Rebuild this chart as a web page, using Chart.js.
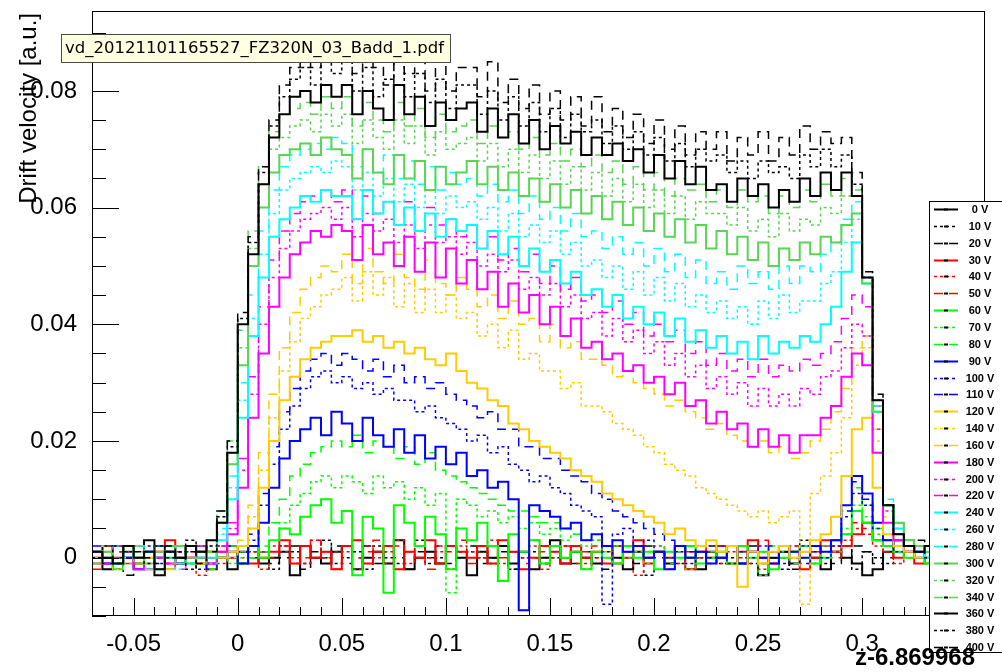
<!DOCTYPE html>
<html>
<head>
<meta charset="utf-8">
<script src="https://cdn.jsdelivr.net/npm/chart.js@4.4.0/dist/chart.umd.min.js"></script>
<style>
  html, body { margin: 0; padding: 0; background: #fff; }
  #wrap { width: 1002px; height: 672px; }
</style>
</head>
<body>
<div id="wrap"><canvas id="vdChart" width="1002" height="672"></canvas></div>
<script>
'use strict';

// z bin edges (0.005 wide), 85 bins from -0.07
var zBins = [];
for (var b = 0; b <= 85; b++) {
    zBins.push(+(-0.07 + 0.005 * b).toFixed(3));
}

// drift velocity per bin, in units of 1e-3 a.u.
var v0 = [1,-2,2,0,-1,3,-3,1,0,2,-1,1, 0,-2,1,2,-1,0,1,-3,2,0,-1,1, 2,-2,0,1,-1,3,-2,0,1,-1,2,0, -3,1,0,2,-1,1,-2,0,3,-1,1,0, -1,2,0,-2,1,0,1,-1,2,0,-2,1, 0,2,-1,1,-3,0,1,-1,2,0,-2,1, 0,-1,-3,-2,1,3,2,1,0,2,-1,1,0];
var v10 = [-1,2,0,1,-2,0,2,-1,1,3,-2,0, 2,0,-1,1,0,-2,2,1,-1,0,3,-1, 0,1,-2,2,0,-1,1,3,-1,0,-2,1, 1,0,-1,2,-2,0,1,-1,0,2,1,-2, 0,1,-1,0,2,-3,1,0,-1,2,0,1, -1,0,2,-1,1,0,-2,1,3,0,-1,1, 2,-2,1,0,-1,2,3,1,0,-1,2,0,1];
var v20 = [0,-1,1,-3,2,0,1,-2,0,1,2,-1, 1,2,-1,0,1,-1,0,2,-2,1,0,2, -1,0,2,-1,1,0,-2,1,0,2,-1,0, 2,-1,0,1,-2,1,0,-1,2,0,-1,1, 1,-2,0,1,-1,2,0,-1,1,-2,0,2, 1,-1,0,2,-1,0,1,-2,0,1,2,-1, 0,2,1,-1,0,1,2,3,-1,0,1,2,-1];
var v30 = [0,2,-1,1,0,-2,1,3,-1,0,1,-2, 1,0,2,-1,0,1,3,-1,2,0,1,-2, 2,3,-1,1,2,-2,1,0,3,-1,2,1, 0,2,-1,3,1,-2,0,2,1,-1,2,0, 1,-1,2,0,3,-1,1,0,2,-2,1,0, 2,-1,1,3,0,-1,2,1,-2,0,3,1, 2,4,6,3,2,0,1,-1,2,0,1,-2,1];
var v40 = [1,-1,0,2,-2,1,0,-1,2,0,-3,1, -1,2,0,1,-2,2,1,0,-1,3,0,1, 1,-2,2,0,1,3,-1,2,0,1,-2,2, 1,0,3,-1,1,0,2,-2,1,0,2,-1, 0,2,-1,1,-3,0,2,1,-1,0,2,1, -1,1,2,0,-2,1,0,2,1,-1,0,2, 3,5,4,2,1,-1,2,0,1,-2,0,1,2];
var v50 = [-2,0,1,-1,2,0,1,-2,1,0,2,-1, 0,1,-1,2,1,0,2,-1,0,3,1,-2, 2,0,1,3,-1,2,1,0,-2,2,1,3, -1,1,2,0,1,-1,3,1,0,2,-1,1, 2,0,-1,1,2,0,1,-2,2,1,0,-1, 1,2,0,-1,3,1,0,2,-1,1,2,0, 4,6,5,3,1,2,0,1,-1,2,1,0,-1];
var v60 = [1,0,-2,2,-1,1,0,2,-1,0,1,-2, 0,1,-1,2,0,3,5,4,7,9,10,6, 8,-3,7,5,-6,9,6,2,7,4,-2,5, 3,6,2,-4,4,1,3,-1,2,0,1,-2, 1,0,-1,2,0,1,-2,1,0,2,-1,0, 1,-1,2,0,1,-2,0,1,2,-1,0,3, 4,8,6,3,2,1,0,2,-1,1,0,2,-1];
var v70 = [0,2,-1,1,0,-2,1,0,2,-1,1,0, 1,-1,0,2,1,3,6,9,11,13,14,12, 14,13,11,14,12,13,10,12,9,11,-6,10, 9,7,8,6,7,5,6,4,5,3,4,2, 3,1,2,0,1,-1,2,0,1,-2,1,0, 2,-1,1,0,-3,1,2,0,1,-1,2,1, 5,9,7,4,2,1,3,0,1,2,-1,1,0];
var v80 = [-1,1,0,2,-1,0,1,-2,0,2,1,-1, 0,2,1,0,2,6,10,14,16,18,19,20, 19,21,18,20,19,17,19,16,18,15,14,13, 12,11,10,9,8,8,7,6,6,5,4,3, 3,2,2,1,2,0,1,-1,2,0,1,1, 0,2,-1,1,0,2,1,-1,0,2,1,3, 8,12,9,5,3,2,1,2,0,1,-1,1,2];
var v90 = [1,-1,2,0,-2,1,0,1,-1,2,0,-1, 0,1,-1,2,6,12,17,20,22,24,21,25, 23,20,24,21,19,22,18,21,17,19,16,18, 14,15,12,13,10,-9,9,8,7,5,6,3, 4,2,3,1,2,0,1,-2,2,0,1,-1, 0,2,-1,1,0,-1,2,1,0,2,1,3, 9,14,11,6,3,2,1,0,2,-1,1,0,1];
var v100 = [0,1,-2,1,0,2,-1,0,1,-1,2,0, 1,0,2,3,9,16,22,26,29,31,32,30, 31,29,30,28,29,27,27,25,26,24,23,22, 20,21,18,19,16,15,13,14,12,11,9,8, 7,-8,4,5,2,3,1,0,2,-1,1,0, 2,-1,1,0,2,1,-1,0,2,1,0,2, 7,11,9,5,3,1,2,0,1,-1,2,0,1];
var v110 = [2,0,-1,1,-2,0,2,1,-1,0,1,-2, 0,2,1,4,11,19,25,29,32,34,35,33, 35,34,32,34,31,33,30,31,29,30,28,27, 26,24,25,22,22,19,19,17,17,15,14,13, 11,10,8,7,6,5,4,3,2,1,2,0, 0,2,-1,1,0,2,1,0,-1,2,1,3, 8,13,10,6,3,2,1,0,2,0,1,-1,1];
var v120 = [-1,1,0,2,-1,0,1,-2,2,0,-1,1, 0,1,2,5,12,20,27,31,34,36,37,38, 38,39,37,38,36,37,35,36,34,33,35,32, 30,29,27,26,23,22,20,19,18,17,15,14, 13,11,10,9,8,7,6,4,5,3,2,3, 1,2,-5,1,-1,1,2,0,1,3,4,7, 14,22,24,12,4,2,1,0,2,1,-1,0,1];
var v140 = [1,0,-2,1,2,-1,0,1,-1,2,0,-1, 1,0,2,7,15,24,32,37,41,43,45,46, 48,44,49,45,48,43,47,42,46,42,45,41, 42,38,40,36,39,34,35,32,32,29,30,26, 26,25,23,22,21,19,18,16,15,14,12,11, 10,9,8,7,8,6,7,8,-8,11,14,18, 24,33,36,20,6,3,2,1,0,2,1,-1,1];
var v160 = [0,2,-1,0,1,-2,1,0,2,-1,1,0, 2,1,3,9,18,28,36,42,46,48,50,49, 52,47,53,49,47,52,48,46,51,47,45,48, 46,43,45,41,44,40,41,37,40,36,37,34, 34,33,31,32,30,29,28,26,27,25,24,22, 23,21,20,19,20,18,19,17,18,20,22,25, 29,36,38,22,7,4,2,1,0,2,1,0,1];
var v180 = [1,-1,0,2,-2,1,0,-1,2,0,1,-1, 1,4,12,24,35,43,48,52,54,56,55,57, 56,51,57,52,54,50,55,49,54,48,53,47, 51,46,49,43,47,42,45,40,43,38,41,36, 37,34,35,32,33,30,31,28,30,26,27,23, 25,22,23,19,22,19,21,18,21,21,24,26, 31,35,33,18,6,3,2,1,2,0,1,-1,1];
var v200 = [0,1,-1,2,0,-2,1,0,1,-1,2,0, 2,5,15,28,40,48,53,56,58,59,60,58, 60,55,59,56,58,54,57,53,57,54,55,52, 54,50,52,49,51,46,48,45,47,43,45,41, 42,38,41,37,39,35,37,33,35,31,33,29, 31,28,30,26,29,26,28,26,29,28,31,32, 36,40,38,22,8,4,2,1,0,2,1,0,1];
var v220 = [-1,0,2,1,-1,0,1,2,-2,1,0,1, 2,6,17,31,43,51,56,59,61,62,63,61, 63,58,62,59,61,57,61,56,60,57,58,55, 57,53,55,51,53,49,52,47,50,46,48,44, 45,42,44,40,42,38,40,37,39,35,37,33, 35,32,34,31,34,31,33,32,34,33,35,37, 41,45,43,26,9,4,2,1,2,0,1,-1,1];
var v240 = [1,0,-1,2,0,1,-2,0,2,-1,1,0, 3,10,24,38,48,55,58,60,62,61,63,62, 62,58,63,59,61,57,60,56,59,55,58,56, 57,53,56,52,55,50,53,49,51,47,49,45, 46,43,45,41,43,40,42,38,41,37,39,36, 38,35,37,34,38,35,37,36,38,37,40,43, 49,54,47,25,9,5,2,1,0,2,1,-1,1];
var v260 = [0,2,-1,1,0,-1,2,1,-2,0,1,2, 4,12,27,41,52,59,63,65,66,67,66,68, 67,63,66,62,65,61,64,60,63,59,62,60, 61,58,60,56,59,55,57,54,56,52,54,50, 51,48,50,46,49,45,48,44,47,43,45,42, 44,41,43,40,44,41,45,42,44,44,47,49, 54,58,48,26,9,5,3,1,2,0,1,0,1];
var v280 = [1,-1,0,1,2,-2,0,1,-1,2,0,1, 5,14,30,45,56,63,67,69,70,71,70,72, 71,67,70,66,69,65,68,64,67,63,66,64, 65,62,64,61,63,59,62,58,60,56,59,55, 56,53,55,52,54,50,53,49,52,48,51,47, 49,46,50,47,49,46,50,47,50,49,52,54, 58,61,48,26,10,5,3,2,1,0,2,1,0];
var v300 = [0,1,-1,2,0,-1,1,0,2,-1,0,1, 6,16,33,50,60,66,69,70,71,69,72,70, 69,65,70,66,64,69,65,68,63,67,64,66, 68,64,67,63,66,62,65,61,64,60,63,59, 62,58,61,57,60,56,59,55,58,54,57,53, 56,52,55,51,54,50,53,51,54,52,55,54, 57,59,47,25,9,6,3,2,1,2,0,1,1];
var v320 = [1,0,2,-1,1,0,-2,1,0,2,1,-1, 7,18,36,53,64,70,72,74,75,73,76,74, 76,71,75,72,70,75,71,74,69,73,70,71, 72,68,71,67,70,66,69,65,68,64,67,63, 66,62,65,61,64,60,63,59,62,58,61,59, 59,57,60,56,58,55,59,56,58,57,60,59, 62,62,48,26,9,6,3,2,1,0,2,1,0];
var v340 = [-1,1,0,2,-1,1,0,-1,2,0,1,0, 8,20,39,56,67,73,76,77,78,76,79,77, 79,74,78,75,73,78,74,77,72,76,73,74, 75,71,74,72,73,70,72,69,71,68,70,67, 69,66,68,64,67,63,66,62,65,63,64,61, 63,60,63,61,62,59,62,60,63,61,64,62, 65,63,48,27,9,6,3,2,1,0,2,1,1];
var v360 = [1,0,-1,2,0,1,-2,1,0,2,1,3, 6,18,40,52,64,72,76,79,80,78,81,79, 81,76,80,77,75,81,76,79,74,78,75,77, 78,73,77,72,76,71,75,70,74,71,73,69, 72,69,71,68,70,66,69,65,68,64,67,63, 64,61,65,62,64,60,63,61,65,62,66,63, 66,62,48,27,9,4,2,1,2,0,1,2,0];
var v380 = [0,2,-1,1,0,-1,2,0,1,-2,1,2, 7,19,41,54,66,74,79,82,84,81,85,83, 85,80,84,79,82,85,79,83,78,82,77,81, 81,76,80,75,79,74,78,73,77,72,76,73, 75,71,74,70,73,69,72,68,71,67,70,68, 69,66,68,65,68,66,67,65,69,67,70,67, 69,64,48,27,9,4,2,1,0,2,1,0,1];
var v400 = [1,-1,0,2,1,0,-1,2,0,1,-1,1, 8,20,42,55,67,75,81,84,86,84,87,85, 88,83,87,84,81,87,83,86,80,85,80,84, 84,79,85,78,82,77,81,76,80,75,79,74, 79,73,77,72,76,71,75,70,74,69,73,70, 73,68,72,69,73,68,72,69,74,70,73,71, 72,66,49,28,9,4,2,1,2,0,1,-1,1];

var voltages = ['0 V', '10 V', '20 V', '30 V', '40 V', '50 V', '60 V', '70 V', '80 V', '90 V',
    '100 V', '110 V', '120 V', '140 V', '160 V', '180 V', '200 V', '220 V', '240 V', '260 V',
    '280 V', '300 V', '320 V', '340 V', '360 V', '380 V', '400 V'];
var series = [v0, v10, v20, v30, v40, v50, v60, v70, v80, v90, v100, v110, v120, v140, v160,
    v180, v200, v220, v240, v260, v280, v300, v320, v340, v360, v380, v400];

var xTickValues = [-0.05, 0, 0.05, 0.1, 0.15, 0.2, 0.25, 0.3];
var xTickLabels = ['-0.05', '0', '0.05', '0.1', '0.15', '0.2', '0.25', '0.3'];
var yTickValues = [0, 0.02, 0.04, 0.06, 0.08];
var yTickLabels = ['0', '0.02', '0.04', '0.06', '0.08'];

// one colour per group of three voltages, line style cycles solid / dotted / dashed
var groupColors = ['#000000', '#ff0000', '#00ff00', '#0000ff', '#ffcc00', '#ff00ff', '#00ffff', '#59d454', '#000000'];
var dashStyles = [[], [3, 3], [9, 6]];

function toPoints(vals) {
    var pts = [];
    for (var i = 0; i < vals.length; i++) {
        pts.push({ x: zBins[i], y: vals[i] / 1000 });
    }
    pts.push({ x: zBins[vals.length], y: vals[vals.length - 1] / 1000 });
    return pts;
}

var datasets = series.map(function (vals, k) {
    return {
        label: voltages[k],
        data: toPoints(vals),
        borderColor: groupColors[Math.floor(k / 3)],
        borderWidth: k % 3 === 0 ? 2 : 1.5,
        borderDash: dashStyles[k % 3],
        stepped: true,
        pointRadius: 0,
        fill: false,
        order: series.length - 1 - k
    };
});

// frame, inside ticks, axis titles, legend and file label
var rootDecor = {
    id: 'rootDecor',
    afterDatasetsDraw: function (chart) {
        var ctx = chart.ctx;
        var a = chart.chartArea;
        var xs = chart.scales.x;
        var ys = chart.scales.y;
        ctx.save();
        ctx.strokeStyle = '#000';
        ctx.lineWidth = 1;
        ctx.setLineDash([]);
        ctx.strokeRect(Math.round(a.left) + 0.5, Math.round(a.top) + 0.5,
            Math.round(a.right - a.left) - 1, Math.round(a.bottom - a.top) - 1);

        ctx.beginPath();
        for (var t = -7; t <= 35; t++) {
            var px = Math.round(xs.getPixelForValue(t / 100)) + 0.5;
            var len = (t % 5 === 0) ? 18 : 9;
            ctx.moveTo(px, a.bottom);
            ctx.lineTo(px, a.bottom - len);
        }
        for (var s = -2; s <= 18; s++) {
            var py = Math.round(ys.getPixelForValue(s * 0.005)) + 0.5;
            var ylen = (s % 4 === 0) ? 27 : 14;
            ctx.moveTo(a.left, py);
            ctx.lineTo(a.left + ylen, py);
        }
        ctx.stroke();

        // y axis title
        ctx.fillStyle = '#000';
        ctx.font = '24px "Liberation Sans", Arial, sans-serif';
        ctx.save();
        ctx.translate(29, 13);
        ctx.rotate(-Math.PI / 2);
        ctx.textAlign = 'right';
        ctx.textBaseline = 'middle';
        ctx.fillText('Drift velocity [a.u.]', 0, 0);
        ctx.restore();

        // legend box
        var lx = 929, ly = 201, lh = 451;
        ctx.fillStyle = '#fff';
        ctx.fillRect(lx, ly, 1002 - lx, lh);
        ctx.strokeStyle = '#000';
        ctx.strokeRect(lx + 0.5, ly + 0.5, 90, lh);
        ctx.font = 'bold 11px "Liberation Sans", Arial, sans-serif';
        ctx.textAlign = 'center';
        ctx.textBaseline = 'middle';
        for (var k = 0; k < datasets.length; k++) {
            var ey = Math.round(209 + k * 16.85) + 0.5;
            ctx.strokeStyle = datasets[k].borderColor;
            ctx.lineWidth = datasets[k].borderWidth;
            ctx.setLineDash(datasets[k].borderDash);
            ctx.beginPath();
            ctx.moveTo(934, ey);
            ctx.lineTo(958, ey);
            ctx.stroke();
            ctx.setLineDash([]);
            ctx.fillStyle = '#000';
            ctx.fillRect(944, ey - 1, 4, 2);
            ctx.fillText(voltages[k], 980, ey);
        }

        // x axis title, on top of the legend corner
        ctx.font = 'bold 24px "Liberation Sans", Arial, sans-serif';
        ctx.textAlign = 'right';
        ctx.textBaseline = 'middle';
        ctx.fillText('z-6.869968', 975, 658);

        // file label
        ctx.fillStyle = '#ffffe1';
        ctx.fillRect(61, 34, 390, 29);
        ctx.strokeStyle = '#4a4a4a';
        ctx.lineWidth = 1;
        ctx.strokeRect(61.5, 34.5, 389, 28);
        ctx.fillStyle = '#000';
        ctx.font = '16.5px "DejaVu Sans", sans-serif';
        ctx.textAlign = 'left';
        ctx.textBaseline = 'middle';
        ctx.fillText('vd_20121101165527_FZ320N_03_Badd_1.pdf', 65, 49);
        ctx.restore();
    }
};

var vdCanvas = document.getElementById('vdChart').getContext('2d');
var vdChart = new Chart(vdCanvas, {
    type: 'line',
    data: { datasets: datasets },
    options: {
        responsive: false,
        animation: false,
        devicePixelRatio: 1,
        layout: { padding: { top: 11, right: 17, left: 0, bottom: 0 } },
        plugins: {
            legend: { display: false },
            tooltip: { enabled: false }
        },
        scales: {
            x: {
                type: 'linear',
                min: -0.07,
                max: 0.359,
                grid: { display: false },
                border: { display: false },
                afterBuildTicks: function (scale) {
                    scale.ticks = xTickValues.map(function (v) { return { value: v }; });
                },
                afterFit: function (scale) {
                    scale.height = 56;
                    scale.paddingLeft = 0;
                    scale.paddingRight = 0;
                },
                ticks: {
                    autoSkip: false,
                    maxRotation: 0,
                    padding: 6,
                    color: '#000',
                    font: { family: '"Liberation Sans", Arial, sans-serif', size: 24 },
                    callback: function (value) {
                        var i = xTickValues.indexOf(value);
                        return i >= 0 ? xTickLabels[i] : '';
                    }
                }
            },
            y: {
                type: 'linear',
                min: -0.01,
                max: 0.0937,
                grid: { display: false },
                border: { display: false },
                afterBuildTicks: function (scale) {
                    scale.ticks = yTickValues.map(function (v) { return { value: v }; });
                },
                afterFit: function (scale) {
                    scale.width = 92;
                    scale.paddingTop = 0;
                    scale.paddingBottom = 0;
                },
                ticks: {
                    padding: 7,
                    color: '#000',
                    font: { family: '"Liberation Sans", Arial, sans-serif', size: 24 },
                    callback: function (value) {
                        var i = yTickValues.indexOf(value);
                        return i >= 0 ? yTickLabels[i] : '';
                    }
                }
            }
        }
    },
    plugins: [rootDecor]
});
</script>
</body>
</html>
